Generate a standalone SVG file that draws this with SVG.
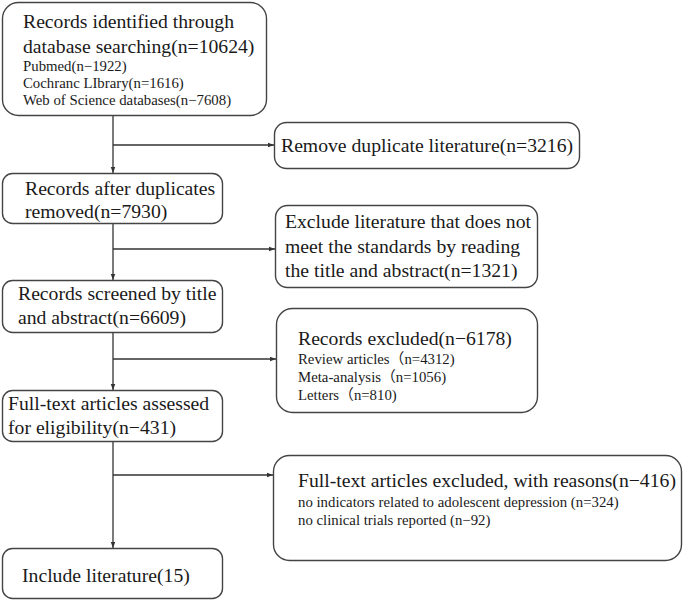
<svg xmlns="http://www.w3.org/2000/svg" width="685" height="602" viewBox="0 0 685 602">
<style>
.box{fill:#fff;stroke:#444;stroke-width:1.4}
.t{font-family:"Liberation Serif","Times New Roman",serif;font-size:19.7px;fill:#1a1a1a}
.s{font-family:"Liberation Serif","Times New Roman","Noto Sans CJK SC",serif;font-size:14.8px;fill:#1a1a1a}
.c{stroke:#333;stroke-width:1.3;fill:none}
</style>
<defs>
<marker id="ah" viewBox="0 0 8 8" refX="8" refY="4" markerWidth="6" markerHeight="6" orient="auto" markerUnits="userSpaceOnUse">
<path d="M0,1 L8,4 L0,7 Z" fill="#333"/>
</marker>
</defs>
<rect width="685" height="602" fill="#fff"/>
<g id="connectors">
<line class="c" x1="113" y1="116" x2="113" y2="173" marker-end="url(#ah)"/>
<line class="c" x1="113" y1="223" x2="113" y2="280" marker-end="url(#ah)"/>
<line class="c" x1="113" y1="332" x2="113" y2="390" marker-end="url(#ah)"/>
<line class="c" x1="113" y1="441" x2="113" y2="548" marker-end="url(#ah)"/>
<line class="c" x1="113" y1="145" x2="274" y2="145" marker-end="url(#ah)"/>
<line class="c" x1="113" y1="249" x2="275" y2="249" marker-end="url(#ah)"/>
<line class="c" x1="113" y1="359" x2="276" y2="359" marker-end="url(#ah)"/>
<line class="c" x1="113" y1="475" x2="273" y2="475" marker-end="url(#ah)"/>
</g>
<g id="n1">
<rect class="box" x="2.5" y="2.5" width="264" height="113" rx="16"/>
<text class="t" x="23" y="28">Records identified through</text>
<text class="t" x="23" y="53">database searching(n=10624)</text>
<text class="s" x="23" y="71">Pubmed(n−1922)</text>
<text class="s" x="23" y="88">Cochranc LIbrary(n=1616)</text>
<text class="s" x="23" y="105">Web of Science databases(n−7608)</text>
</g>
<g id="n2">
<rect class="box" x="274.5" y="122.5" width="305" height="46" rx="12"/>
<text class="t" x="281" y="152">Remove duplicate literature(n=3216)</text>
</g>
<g id="n3">
<rect class="box" x="2.5" y="173.5" width="220" height="50" rx="10"/>
<text class="t" x="25" y="195">Records after duplicates</text>
<text class="t" x="25" y="218">removed(n=7930)</text>
</g>
<g id="n4">
<rect class="box" x="275.5" y="205.5" width="262" height="82" rx="12"/>
<text class="t" x="285" y="228">Exclude literature that does not</text>
<text class="t" x="285" y="253">meet the standards by reading</text>
<text class="t" x="285" y="277">the title and abstract(n=1321)</text>
</g>
<g id="n5">
<rect class="box" x="2.5" y="280.5" width="220" height="52" rx="10"/>
<text class="t" x="18" y="300">Records screened by title</text>
<text class="t" x="18" y="324">and abstract(n=6609)</text>
</g>
<g id="n6">
<rect class="box" x="276.5" y="308.5" width="261" height="104" rx="16"/>
<text class="t" x="298" y="345">Records excluded(n−6178)</text>
<text class="s" x="298" y="364">Review articles（n=4312)</text>
<text class="s" x="298" y="382">Meta-analysis（n=1056)</text>
<text class="s" x="298" y="400">Letters（n=810)</text>
</g>
<g id="n7">
<rect class="box" x="2.5" y="390.5" width="220" height="51" rx="10"/>
<text class="t" x="8" y="410">Full-text articles assessed</text>
<text class="t" x="8" y="434">for eligibility(n−431)</text>
</g>
<g id="n8">
<rect class="box" x="273.5" y="455.5" width="408" height="105" rx="16"/>
<text class="t" x="298" y="487">Full-text articles excluded, with reasons(n−416)</text>
<text class="s" x="298" y="507">no indicators related to adolescent depression (n=324)</text>
<text class="s" x="298" y="525">no clinical trials reported (n−92)</text>
</g>
<g id="n9">
<rect class="box" x="2.5" y="548.5" width="220" height="50" rx="10"/>
<text class="t" x="22" y="582">Include literature(15)</text>
</g>
</svg>
